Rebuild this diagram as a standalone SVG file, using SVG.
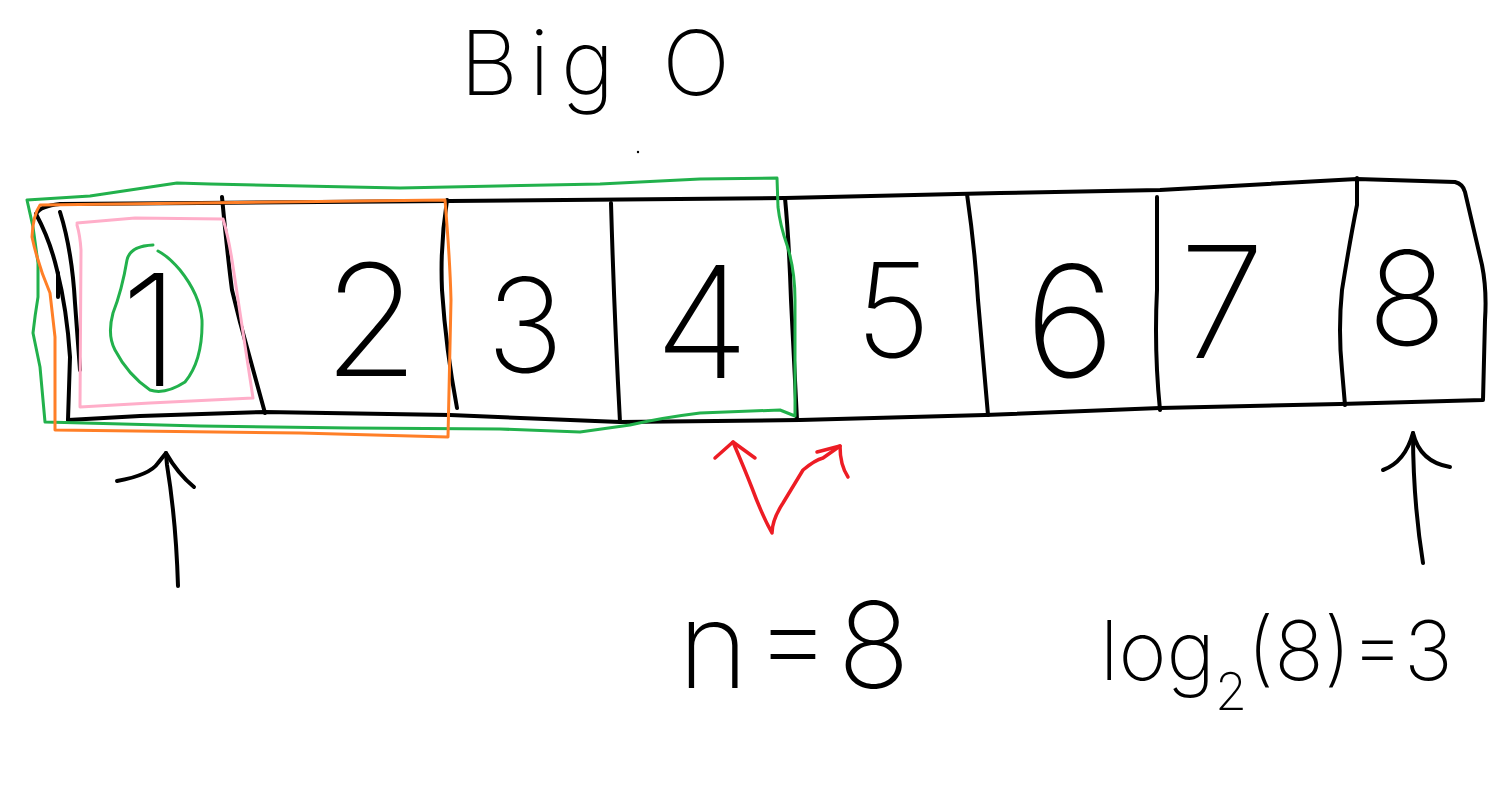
<svg xmlns="http://www.w3.org/2000/svg" width="1501" height="804" viewBox="0 0 1501 804">
<style>
.ink{fill:none;stroke:#000;stroke-width:4;stroke-linecap:round;stroke-linejoin:round}
.grn{fill:none;stroke:#22b14c;stroke-width:3;stroke-linecap:round;stroke-linejoin:round}
.org{fill:none;stroke:#ff7f27;stroke-width:3;stroke-linecap:round;stroke-linejoin:round}
.pnk{fill:none;stroke:#ffaec9;stroke-width:3;stroke-linecap:round;stroke-linejoin:round}
.red{fill:none;stroke:#ed1c24;stroke-width:3.5;stroke-linecap:round;stroke-linejoin:round}
.hand{font-family:Inter,Lato,"Liberation Sans",sans-serif;font-weight:200;fill:#000}
.digit{font-size:155px;text-anchor:middle}
.small{font-size:130px}
</style>
<rect width="1501" height="804" fill="#fff"/>
<g id="title">
<text class="hand" x="460" y="95" font-size="90" textLength="270" lengthAdjust="spacing">Big O</text>
<circle cx="638" cy="152" r="1.2" fill="#000"/>
</g>
<g id="array">
<path class="ink" d="M36,214 Q40,206 60,204 L200,203 L450,201 L785,198 L1000,193 L1160,190 L1357,179 L1455,182 Q1463,184 1465,192 L1482,265 Q1487,290 1485,320 L1483,400 L1340,404 L1160,408 L985,415 L800,420 L620,422 L450,415 L265,412 L140,416 L68,420"/>
<path class="ink" d="M36,214 Q50,240 57,270 Q67,310 70,357 L68,420"/>
<path class="ink" d="M60,212 Q72,250 75,303 L80,370"/>
<path class="ink" d="M58,273 L58,297"/>
<path class="ink" d="M222,197 Q228,260 232,290 L240,322 L265,413"/>
<path class="ink" d="M447,200 Q440,245 442,290 Q446,350 457,408"/>
<path class="ink" d="M611,203 Q614,310 620,422"/>
<path class="ink" d="M785,198 Q789,240 791,300 L797,420"/>
<path class="ink" d="M967,194 Q975,250 978,300 L988,415"/>
<path class="ink" d="M1157,197 L1157,290 Q1154,350 1160,410"/>
<path class="ink" d="M1357,178 L1357,205 Q1350,240 1342,290 Q1338,330 1342,370 L1345,405"/>
</g>
<g id="cells">
<text class="hand digit" x="150" y="386">1</text>
<text class="hand digit" x="371" y="376">2</text>
<text class="hand digit small" x="525" y="372">3</text>
<text class="hand digit" x="702" y="378">4</text>
<text class="hand digit small" x="893" y="357">5</text>
<text class="hand digit" x="1070" y="377">6</text>
<text class="hand digit" x="1222" y="358">7</text>
<text class="hand digit small" x="1407" y="345">8</text>
</g>
<g id="highlights">
<path class="grn" d="M27,200 L90,196 L177,183 L210,184 L400,188 L600,184 L700,179 L777,178 L778,207 Q780,225 787,245 Q795,270 795,300 L795,416 L780,410 L700,413 Q660,418 630,425 L580,432 L500,429 L350,428 L200,426 L45,422 L40,367 L33,333 Q35,315 38,297 L38,263 L33,227 Z"/>
<path class="org" d="M40,205 L445,200 Q450,260 451,300 L448,437 L300,433 L55,430 L55,337 Q52,310 50,293 Q38,265 32,237 Q33,215 40,205 Z"/>
<path class="pnk" d="M77,223 L135,218 L223,219 Q228,235 232,260 L253,398 L150,403 L80,407 L81,250 Q80,235 77,225"/>
<path class="grn" d="M153,245 Q130,246 127,260 Q122,290 113,313 Q107,335 115,350 Q128,375 150,390 Q165,395 185,382 Q203,360 202,320 Q200,295 180,270 Q168,256 158,251"/>
</g>
<g id="connectors">
<path class="ink" d="M178,586 Q176,520 167,465 L166,453"/>
<path class="ink" d="M117,481 Q150,475 158,463 L166,453 Q178,474 194,487"/>
<path class="ink" d="M1423,563 Q1413,500 1413,433"/>
<path class="ink" d="M1383,470 Q1405,462 1413,433 Q1420,462 1450,467"/>
<path class="red" d="M715,458 L733,442 L755,458"/>
<path class="red" d="M733,442 Q745,470 752,488 Q762,515 772,533 Q772,520 783,503 L803,470 Q815,460 823,458 L840,446"/>
<path class="red" d="M817,452 L840,446 Q840,465 848,477"/>
</g>
<g id="labels">
<text class="hand" x="678" y="688" font-size="120" textLength="232" lengthAdjust="spacing">n = 8</text>
<text class="hand" x="1100" y="680" font-size="82">log<tspan font-size="52" dy="30">2</tspan><tspan dy="-30">(8)=3</tspan></text>
</g>
</svg>
